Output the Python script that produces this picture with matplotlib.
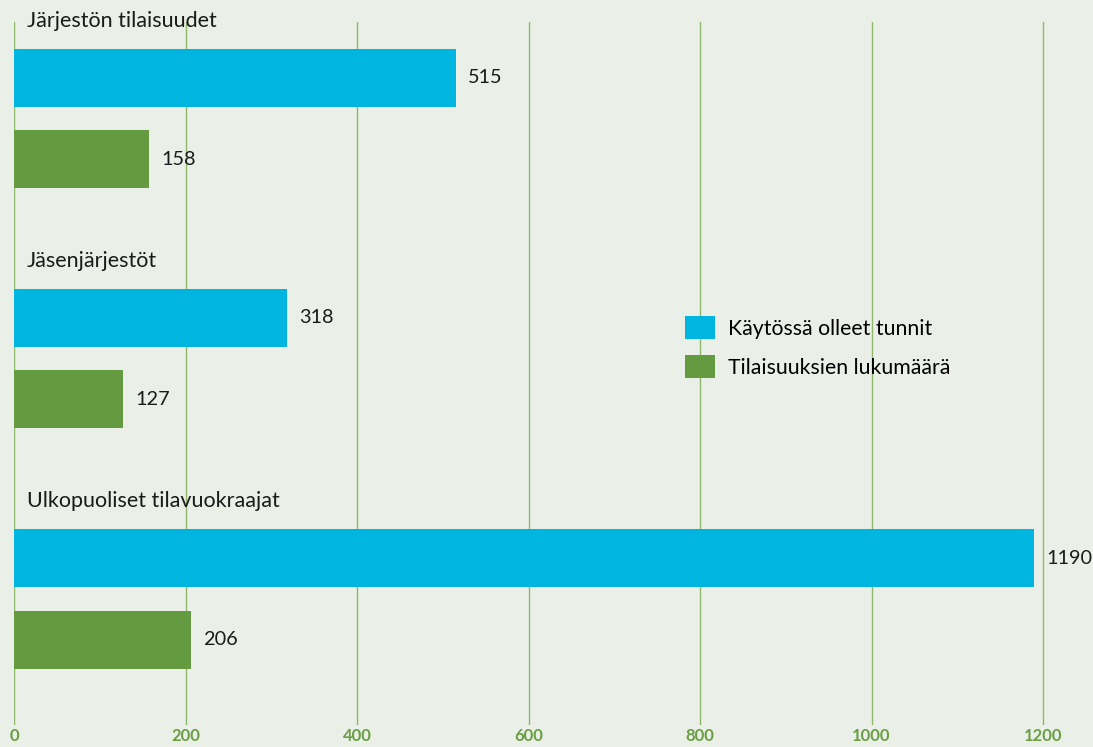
import matplotlib.pyplot as plt
from matplotlib.patches import Patch

groups = ["Järjestön tilaisuudet", "Jäsenjärjestöt", "Ulkopuoliset tilavuokraajat"]
tunnit = [515, 318, 1190]
lukumaara = [158, 127, 206]
series_names = ["Käytössä olleet tunnit", "Tilaisuuksien lukumäärä"]
xticks = [0, 200, 400, 600, 800, 1000, 1200]

BG = "#eaf0e7"
BLUE = "#00b5e0"
GREEN = "#659b40"
GRID = "#8fb86c"
TICK = "#6a9e45"
FONT = ["Lato", "DejaVu Sans"]

plt.rcParams['font.family'] = FONT

fig = plt.figure(figsize=(10.93, 7.47), dpi=100, facecolor=BG)
# axes placed in figure pixels: x 14..1093, y 22..725 from top
W, H = 1093, 747
ax = fig.add_axes([14 / W, 1 - 725 / H, (W - 14) / W, (725 - 22) / H])
ax.set_facecolor(BG)

px_per_unit = (1043 - 14) / 1200
ax.set_xlim(0, (W - 14) / px_per_unit)
ax.set_ylim(725, 22)

pitch = 240
bar_h = 58
gap = 14
for i, name in enumerate(groups):
    yb = 78 + pitch * i
    yg = yb + 81.5
    ax.barh(yb, tunnit[i], height=bar_h, color=BLUE, zorder=2)
    ax.barh(yg, lukumaara[i], height=bar_h, color=GREEN, zorder=2)
    ax.text(tunnit[i] + gap, yb, str(tunnit[i]), va='center', ha='left',
            fontsize=14.3, color='#1a1a1a')
    ax.text(lukumaara[i] + gap, yg, str(lukumaara[i]), va='center', ha='left',
            fontsize=14.3, color='#1a1a1a')
    ax.text(15, yb - 57, name, va='center', ha='left', fontsize=15.5,
            color='#1a1a1a', clip_on=False)

for t in xticks:
    ax.axvline(t, color=GRID, lw=1, zorder=1)

ax.set_xticks(xticks)
ax.set_xticklabels([str(t) for t in xticks])
ax.set_yticks([])
ax.tick_params(axis='x', length=0, pad=2, labelsize=12, labelcolor=TICK)
for lab in ax.get_xticklabels():
    lab.set_fontweight('bold')
for s in ax.spines.values():
    s.set_visible(False)

handles = [Patch(facecolor=BLUE), Patch(facecolor=GREEN)]
fig.legend(handles, series_names, loc='upper left',
           bbox_to_anchor=(685 / W, 1 - 316 / H), frameon=False,
           borderpad=0, borderaxespad=0, fontsize=15.3,
           handlelength=1.42, handleheight=1.3, handletextpad=0.62,
           labelspacing=0.75)

fig.savefig("out.png", dpi=100, facecolor=BG)
